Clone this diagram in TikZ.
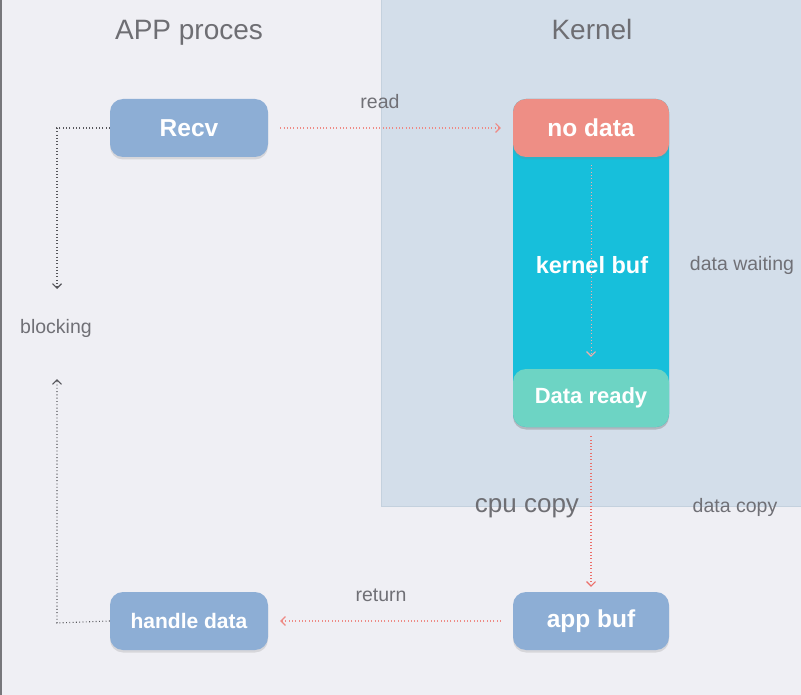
\documentclass[tikz,border=0pt]{standalone}
\usepackage{fontspec}
\setmainfont{Liberation Sans}
\usetikzlibrary{arrows.meta,shadows}
\definecolor{bg}{HTML}{EFEFF4}
\definecolor{kbg}{HTML}{D3DEEA}
\definecolor{kedge}{HTML}{C4D1DE}
\definecolor{nodeblue}{HTML}{8DAED5}
\definecolor{salmon}{HTML}{EE8E85}
\definecolor{cyanbuf}{HTML}{17BFDB}
\definecolor{tealready}{HTML}{6DD4C4}
\definecolor{titlegray}{HTML}{6E6E73}
\definecolor{labelgray}{HTML}{707076}
\definecolor{pinkline}{HTML}{EE8A85}
\definecolor{redline}{HTML}{EC6F6A}
\definecolor{grayline}{HTML}{55555A}
\tikzset{
  box/.style={rounded corners=13pt, minimum width=158pt, minimum height=58pt,
    inner sep=0pt, text=white, font=\bfseries,
    drop shadow={opacity=0.22, shadow xshift=0pt, shadow yshift=-2.5pt}},
  title/.style={text=titlegray, font=\fontsize{28}{30}\selectfont, anchor=base},
  lbl/.style={text=labelgray, font=\fontsize{19.5}{22}\selectfont},
  dotline/.style={line width=1.1pt, dash pattern=on 0.9pt off 2.4pt},
  tip/.style={-{Straight Barb[length=4.5pt,width=9pt,line width=1.1pt]}},
}
\begin{document}
\begin{tikzpicture}[x=1pt,y=-1pt]
\fill[bg] (0,0) rectangle (801,695);
\useasboundingbox (0,0) rectangle (801,695);
\fill[kbg] (381.5,0) rectangle (801,506.5);
\draw[kedge, line width=1pt] (381.5,0) -- (381.5,506.5) -- (801,506.5);
\draw[grayline!80, line width=1.5pt] (0.75,0) -- (0.75,695);

% titles
\node[title] (ttlapp) at (189,40) {APP proces};
\node[title] (ttlk) at (592,40) {Kernel};

% kernel column
\node[box, fill=cyanbuf, minimum height=328pt, minimum width=156pt] (kbuf) at (591,263) {};
\node[box, fill=salmon, minimum width=156pt, font=\bfseries\fontsize{24.5}{28}\selectfont] (nodata) at (591,128) {no data};
\node[text=white, font=\bfseries\fontsize{23.5}{28}\selectfont] (kbuftxt) at (592,265) {kernel buf};
\node[box, fill=tealready, minimum width=156pt, font=\bfseries\fontsize{22}{26}\selectfont] (ready) at (591,398) {Data ready};

% app nodes
\node[box, fill=nodeblue, font=\bfseries\fontsize{24.5}{28}\selectfont] (recv) at (189,128) {Recv};
\node[box, fill=nodeblue, font=\bfseries\fontsize{21}{25}\selectfont] (handle) at (189,621) {handle data};
\node[box, fill=nodeblue, minimum width=156pt, font=\bfseries\fontsize{24.5}{28}\selectfont] (appbuf) at (591,621) {app buf};

% labels
\node[lbl] (lread) at (380,102) {read};
\node[lbl] (lwait) at (742,265) {data waiting};
\node[lbl] (lblock) at (56,328) {blocking};
\node[title, font=\fontsize{26}{28}\selectfont] (lcpu) at (527,512) {cpu copy};
\node[lbl, anchor=base] (ldcopy) at (735,512) {data copy};
\node[lbl] (lret) at (381,595) {return};

% connectors
\coordinate (c1) at (57,128);
\coordinate (c2) at (57,289);
\coordinate (c3) at (57,623);
\coordinate (c4) at (57,379);
\draw[dotline, grayline, tip] (recv.west) -- (c1) -- (c2);
\draw[dotline, grayline, tip] (handle.west) -- (c3) -- (c4);
\draw[dotline, pinkline, tip] ([xshift=12pt]recv.east) -- ([xshift=-12pt]nodata.west);
\draw[dotline, pinkline!70, line width=0.8pt, tip] ([yshift=-8pt]nodata.south) -- ([yshift=12pt]ready.north);
\draw[dotline, redline, line width=1.3pt, tip] ([yshift=-9pt]ready.south) -- ([yshift=5pt]appbuf.north);
\draw[dotline, pinkline, tip] ([xshift=-12pt]appbuf.west) -- ([xshift=12pt]handle.east);
\end{tikzpicture}
\end{document}
